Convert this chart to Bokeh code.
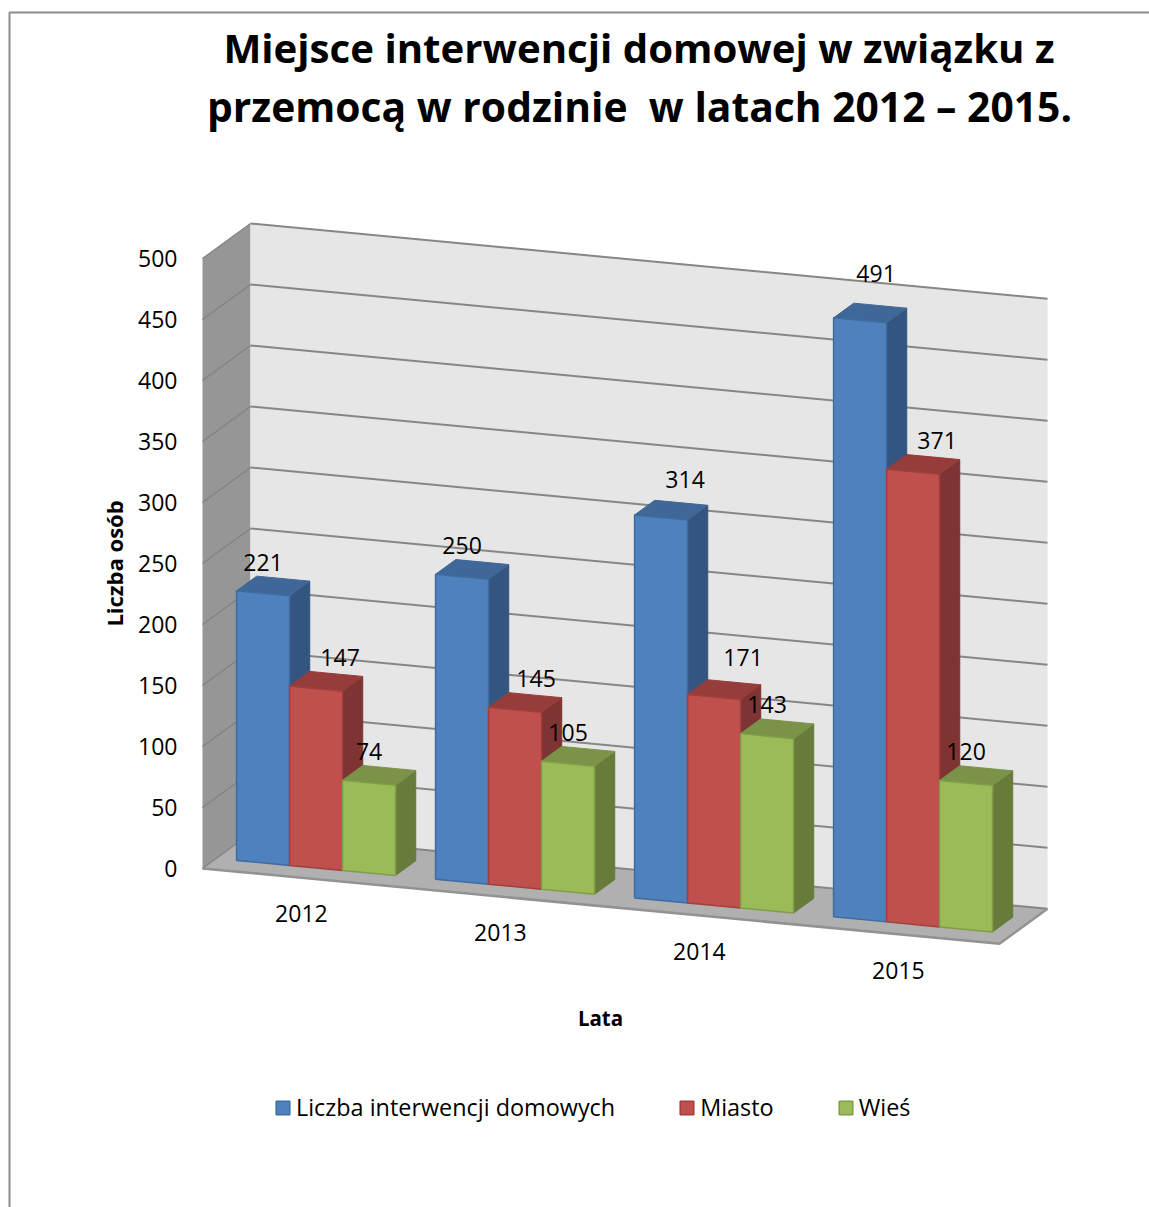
from bokeh.plotting import figure
from bokeh.embed import file_html
from bokeh.resources import INLINE
from bokeh.core.properties import value
from bokeh.models import Range1d, FixedTicker, Legend, LegendItem

# ---- data ----
years = ["2012", "2013", "2014", "2015"]
interwencje = [221, 250, 314, 491]
miasto = [147, 145, 171, 371]
wies = [74, 105, 143, 120]
series_names = ["Liczba interwencji domowych", "Miasto", "Wieś"]
y_ticks = [0, 50, 100, 150, 200, 250, 300, 350, 400, 450, 500]
title_lines = ["Miejsce interwencji domowej w związku z",
               "przemocą w rodzinie \u00a0w latach 2012 – 2015."]
x_title = "Lata"
y_title = "Liczba osób"

# ---- 3-D projection (layout constants) ----
W, H = 1149, 1207
ORIGIN_X, ORIGIN_Y = 202.0, 868.0
PX_PER_UNIT = 1.22
SLOPE = 0.0945
DEPTH_X, DEPTH_Y = 48.0, 35.0
FLOOR_LEN = 797.0
GROUP_STEP, BAR_W, FIRST_U = 199.0, 53.0, 20.4
BAR_D0, BAR_D1 = 0.285, 0.705


def val(py):
    return (ORIGIN_Y - py) / PX_PER_UNIT


def proj(u, d, v):
    return (ORIGIN_X + u + DEPTH_X * d,
            v - (SLOPE * u - DEPTH_Y * d) / PX_PER_UNIT)


def poly(pts):
    p = [proj(*a) for a in pts]
    return [a[0] for a in p], [a[1] for a in p]


p = figure(width=W, height=H, output_backend="svg", toolbar_location=None,
           x_range=Range1d(0, W), y_range=Range1d(val(H), val(0)),
           x_axis_type=None, min_border=0, outline_line_color=None,
           tools="")
p.grid.visible = False

# outer chart border
p.line([9, 9, W], [val(H), val(12), val(12)], line_color="#8c8c8c", line_width=2)

# walls and floor
top = y_ticks[-1]
wx, wy = poly([(0, 0, 0), (0, 1, 0), (0, 1, top), (0, 0, top)])
p.patch(wx, wy, fill_color="#969696", line_color=None)
wx, wy = poly([(0, 1, 0), (FLOOR_LEN, 1, 0), (FLOOR_LEN, 1, top), (0, 1, top)])
p.patch(wx, wy, fill_color="#E6E6E6", line_color=None)
wx, wy = poly([(0, 0, 0), (FLOOR_LEN, 0, 0), (FLOOR_LEN, 1, 0), (0, 1, 0)])
p.patch(wx, wy, fill_color="#B0B0B0", line_color=None)

gx, gy, hx, hy = [], [], [], []
for t in y_ticks:
    a, b = poly([(0, 1, t), (FLOOR_LEN, 1, t)])
    gx.append(a)
    gy.append(b)
    a, b = poly([(0, 0, t), (0, 1, t)])
    hx.append(a)
    hy.append(b)
p.multi_line(hx, hy, line_color="#828282", line_width=1.2)
p.multi_line(gx, gy, line_color="#868686", line_width=2)
ex, ey = poly([(0, 0, 0), (FLOOR_LEN, 0, 0), (FLOOR_LEN, 1, 0)])
p.line(ex, ey, line_color="#929292", line_width=2.5)

# bars
all_series = [interwencje, miasto, wies]
front = ["#4F81BD", "#C0504D", "#9BBB59"]
edge = ["#3D6CA3", "#A23F3C", "#7F9E45"]
sides = ["#34557F", "#7D3432", "#677C3B"]
tops = ["#3F6797", "#963D3B", "#7A9348"]

legend_items = []
for j, vals in enumerate(all_series):
    fx, fy, sx, sy, tx, ty = [], [], [], [], [], []
    for i, v in enumerate(vals):
        u0 = FIRST_U + GROUP_STEP * i + BAR_W * j
        u1 = u0 + BAR_W
        a, b = poly([(u0, BAR_D0, 0), (u1, BAR_D0, 0), (u1, BAR_D0, v), (u0, BAR_D0, v)])
        fx.append(a); fy.append(b)
        a, b = poly([(u1, BAR_D0, 0), (u1, BAR_D1, 0), (u1, BAR_D1, v), (u1, BAR_D0, v)])
        sx.append(a); sy.append(b)
        a, b = poly([(u0, BAR_D0, v), (u1, BAR_D0, v), (u1, BAR_D1, v), (u0, BAR_D1, v)])
        tx.append(a); ty.append(b)
    p.patches(sx, sy, fill_color=sides[j], line_color=sides[j], line_width=1)
    p.patches(tx, ty, fill_color=tops[j], line_color=tops[j], line_width=1)
    r = p.patches(fx, fy, fill_color=front[j], line_color=edge[j], line_width=1.5)
    legend_items.append(LegendItem(label=series_names[j], renderers=[r]))

# value labels; manual nudges relative to each bar's top centre
NUDGE = [[(0, -31), (0, -31), (24, -38), (16, -47)],
         [(24, -31), (21, -31), (29, -39), (24, -31)],
         [(0, -31), (0, -31), (0, -32), (0, -31)]]
lx, ly, lt = [], [], []
for j, vals in enumerate(all_series):
    for i, v in enumerate(vals):
        u = FIRST_U + GROUP_STEP * i + BAR_W * (j + 0.5)
        x0, y0 = proj(u, BAR_D0, v)
        dx, dy = NUDGE[j][i]
        lx.append(x0 + dx)
        ly.append(y0 - dy / PX_PER_UNIT)
        lt.append(str(v))
TXT = dict(text_font=value("Open Sans"), text_align="center", text_baseline="middle",
           text_color="#000000")
p.text(lx, ly, text=lt, text_font_size="23px", **TXT)

# category labels
cx, cy = [], []
for i in range(len(years)):
    a, b = proj(FIRST_U + GROUP_STEP * i + BAR_W * 1.5, 0, 0)
    cx.append(a - 1)
    cy.append(b - 36 / PX_PER_UNIT)
p.text(cx, cy, text=years, text_font_size="23px", **TXT)

# titles
p.text([638.5], [val(47)], text=title_lines[:1], text_font_size="40.2px",
       text_font_style="bold", **TXT)
p.text([639], [val(105)], text=title_lines[1:], text_font_size="40.8px",
       text_font_style="bold", **TXT)
p.text([600], [val(1017)], text=[x_title], text_font_size="20.5px", text_font_style="bold", **TXT)
p.text([113.5], [val(563)], text=[y_title], text_font_size="22px", text_font_style="bold",
       angle=90, angle_units="deg", **TXT)

# value axis, fixed at the front edge of the side wall
ax = p.yaxis[0]
ax.fixed_location = 202
ax.ticker = FixedTicker(ticks=y_ticks)
ax.axis_line_color = None
ax.major_tick_line_color = None
ax.minor_tick_line_color = None
ax.major_tick_out = 0
ax.major_tick_in = 0
ax.major_label_standoff = 25
ax.major_label_text_font = "Open Sans"
ax.major_label_text_font_size = "23px"
ax.major_label_text_color = "#000000"

legend = Legend(items=legend_items, orientation="horizontal",
                location=(274, H - 1123), spacing=63, padding=0, margin=0,
                glyph_width=17, glyph_height=17, label_standoff=5,
                label_text_font="Open Sans", label_text_font_size="23.4px",
                label_text_color="#000000",
                background_fill_alpha=0, border_line_color=None)
p.add_layout(legend, "center")

open("out.html", "w").write(file_html(p, INLINE))
